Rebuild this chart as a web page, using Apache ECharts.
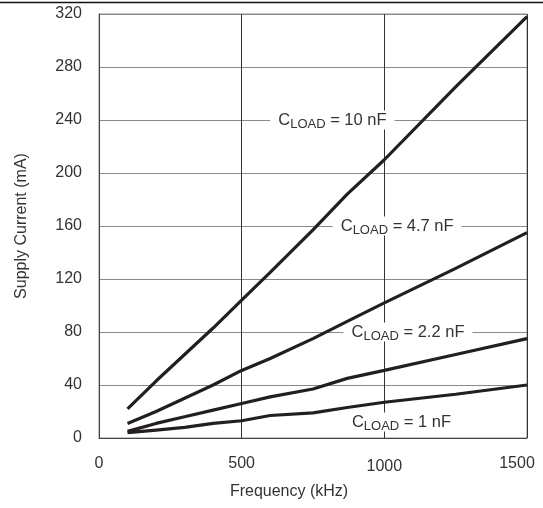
<!DOCTYPE html>
<html>
<head>
<meta charset="utf-8">
<script src="https://cdn.jsdelivr.net/npm/echarts@6/dist/echarts.min.js"></script>
<style>
  html, body { margin: 0; padding: 0; background: #fff; }
  #chart { width: 543px; height: 508px; }
</style>
</head>
<body>
<div id="chart"></div>
<script>
// Supply current vs. switching frequency for several load capacitances
var freqKHz = [100, 200, 300, 400, 500, 600, 750, 870, 1000, 1250, 1500];
var load10nF  = [22, 43, 63, 83, 104, 125, 157, 184, 210, 265, 318];
var load4p7nF = [11, 20, 30, 40, 51, 60, 75, 88, 102, 128, 155];
var load2p2nF = [5, 11, 16, 21, 26, 31, 37, 45, 51, 63, 75];
var load1nF   = [4, 6, 8, 11, 13, 17, 19, 23, 27, 33, 40];

var yTicks = [0, 40, 80, 120, 160, 200, 240, 280, 320];
var xTicks = [0, 500, 1000, 1500];

var seriesNames = ['10 nF', '4.7 nF', '2.2 nF', '1 nF'];
var seriesValues = [load10nF, load4p7nF, load2p2nF, load1nF];

var ink = '#231f20';
var textCol = '#333333';
var face = 'Liberation Sans, Arial';

function pairs(values) {
  return freqKHz.map(function (f, i) { return [f, values[i]]; });
}

// Where each capacitance tag sits, in axis units
var tagAnchors = [[818, 240], [1045, 160], [1083, 80], [1060, 12]];

var chart = echarts.init(document.getElementById('chart'), null, { renderer: 'canvas' });

// Curves are drawn by line series; the tags are drawn by a separate
// layer of mark points kept below the curves, above the grid.
var curves = seriesNames.map(function (name, k) {
  return {
    type: 'line',
    name: name,
    data: pairs(seriesValues[k]),
    showSymbol: false,
    symbol: 'none',
    lineStyle: { color: ink, width: 3.2 },
    z: 4
  };
});

var tags = seriesNames.map(function (name, k) {
  return {
    type: 'line',
    name: 'tag ' + name,
    data: [],
    z: 2,
    markPoint: {
      symbol: 'circle',
      symbolSize: 0,
      silent: true,
      z: 1,
      data: [{
        coord: tagAnchors[k],
        label: {
          show: true,
          position: 'inside',
          formatter: '{c|C}{s|LOAD}{c| = ' + name + '}',
          backgroundColor: '#fff',
          padding: [0, 8, 0, 8],
          rich: {
            c: { fontFamily: face, fontSize: 16.5, color: textCol, lineHeight: 19, verticalAlign: 'middle' },
            s: { fontFamily: face, fontSize: 13, color: textCol, lineHeight: 19, padding: [9, 0, 0, 0], verticalAlign: 'middle' }
          }
        }
      }]
    }
  };
});

var option = {
  animation: false,
  backgroundColor: '#fff',
  grid: { left: 99, right: 16, top: 14, bottom: 70, containLabel: false,
          show: true, borderColor: '#8a8a8a', borderWidth: 1 },
  xAxis: {
    type: 'value',
    min: 0, max: 1500, interval: 500,
    name: 'Frequency (kHz)',
    nameLocation: 'middle',
    nameGap: 46,
    nameTextStyle: { fontFamily: face, fontSize: 16, color: textCol, padding: [0, 48, 0, 0] },
    axisLine: { show: true, onZero: false, lineStyle: { color: '#444', width: 1 } },
    axisTick: { show: false },
    axisLabel: {
      margin: 18,
      fontFamily: face, fontSize: 16, color: textCol,
      formatter: function (v) {
        if (xTicks.indexOf(v) < 0) return '';
        if (v === 1500) return '{r|' + v + '}';
        if (v === 1000) return '{l|' + v + '}';
        return '{n|' + v + '}';
      },
      rich: {
        n: { fontFamily: face, fontSize: 16, color: textCol },
        l: { fontFamily: face, fontSize: 16, color: textCol, padding: [3, 0, 0, 0] },
        r: { fontFamily: face, fontSize: 16, color: textCol, padding: [0, 20, 12, 0] }
      }
    },
    splitLine: { show: true, lineStyle: { color: '#333', width: 1 } }
  },
  yAxis: {
    type: 'value',
    min: 0, max: 320, interval: 40,
    name: 'Supply Current (mA)',
    nameLocation: 'middle',
    nameGap: 69,
    nameTextStyle: { fontFamily: face, fontSize: 16, color: textCol },
    axisLine: { show: true, lineStyle: { color: '#444', width: 1 } },
    axisTick: { show: false },
    axisLabel: {
      margin: 17,
      fontFamily: face, fontSize: 16, color: textCol,
      formatter: function (v) { return yTicks.indexOf(v) >= 0 ? String(v) : ''; }
    },
    splitLine: { show: true, lineStyle: { color: '#8a8a8a', width: 1 } }
  },
  graphic: [{
    type: 'line',
    shape: { x1: 0, y1: 2.5, x2: 543, y2: 2.5 },
    style: { stroke: '#111', lineWidth: 1.5 },
    silent: true
  }],
  series: tags.concat(curves)
};

chart.setOption(option);
</script>
</body>
</html>
